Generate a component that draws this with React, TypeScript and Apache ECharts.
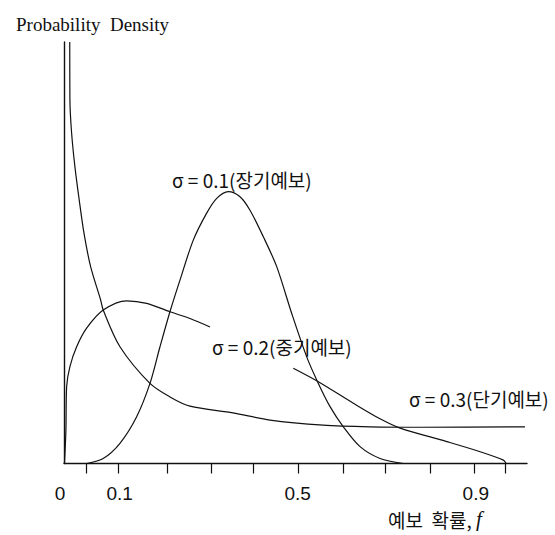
import React, { useEffect, useRef } from "react";
import * as echarts from "echarts";

// Forecast probability f (x) and probability density (y) for each spread σ.
const longRangeF = [0.0258, 0.0631, 0.1007, 0.1382, 0.1681, 0.1906, 0.213, 0.2355, 0.2654, 0.2955, 0.318, 0.344, 0.3703, 0.3928, 0.4227, 0.4528, 0.4865, 0.5202, 0.5463, 0.5726, 0.6025, 0.64, 0.6849, 0.7373];
const longRangeDensity = [0, 0.12, 0.48, 1.11, 1.9, 2.77, 3.6, 4.35, 5.3, 5.94, 6.29, 6.45, 6.33, 6.01, 5.38, 4.67, 3.56, 2.53, 1.9, 1.35, 0.87, 0.4, 0.12, 0];

// σ = 0.2 curve is drawn in two pieces, broken where its label sits.
const midRangeF1 = [-0.024, -0.0207, -0.0191, -0.0117, 0.0034, 0.0258, 0.0631, 0.1157, 0.1607, 0.213, 0.258, 0.3029];
const midRangeDensity1 = [0, 0.79, 1.82, 2.3, 2.77, 3.21, 3.64, 3.86, 3.8, 3.6, 3.44, 3.24];
const midRangeF2 = [0.4901, 0.5463, 0.6249, 0.6849, 0.7299, 0.8348, 0.9097, 0.962, 0.9681];
const midRangeDensity2 = [2.26, 1.94, 1.43, 1.06, 0.84, 0.52, 0.28, 0.08, 0];

const shortRangeF = [-0.0121, -0.0117, -0.0079, -0.0004, 0.0092, 0.0198, 0.0348, 0.0573, 0.0631, 0.1007, 0.1681, 0.213, 0.258, 0.3546, 0.4378, 0.5569, 0.6625, 0.7748, 1.0106];
const shortRangeDensity = [10, 8.62, 7.84, 7.03, 6.25, 5.47, 4.67, 3.88, 3.64, 2.77, 1.9, 1.58, 1.36, 1.2, 1.03, 0.91, 0.87, 0.86, 0.87];

const xTickValues = [0.024, 0.097, 0.208, 0.305, 0.4, 0.501, 0.602, 0.696, 0.797, 0.897, 0.966];
const xLabelValues = [-0.025, 0.1, 0.5, 0.9];
const xLabelTexts = ["0", "0.1", "0.5", "0.9"];

const seriesLabels = ["σ = 0.1(장기예보)", "σ = 0.2(중기예보)", "σ = 0.3(단기예보)"];

const zip = (xs: number[], ys: number[]) => xs.map((x, i) => [x, ys[i]]);

const INK = "#111";
const KR_FONT = '"Noto Sans CJK KR", "Noto Sans", sans-serif';
const TICK_FONT = '"Liberation Sans Narrow", "Liberation Sans", Arial, sans-serif';

export default function App() {
  const ref = useRef<HTMLDivElement>(null);

  useEffect(() => {
    if (!ref.current) return;
    const chart = echarts.init(ref.current, null, { renderer: "svg" });

    const curve = (data: number[][]) => ({
      type: "line",
      data,
      showSymbol: false,
      symbol: "none",
      smooth: 0.3,
      lineStyle: { color: INK, width: 1.2 },
      silent: true,
    });

    const labelText = (text: string, x: number, y: number) => ({
      type: "text",
      x,
      y,
      silent: true,
      style: {
        text,
        font: `19px ${KR_FONT}`,
        fill: INK,
        align: "left",
        verticalAlign: "middle",
      },
    });

    chart.setOption({
      animation: false,
      backgroundColor: "#fff",
      title: {
        text: "Probability  Density",
        left: 11,
        top: 10,
        textStyle: {
          fontFamily: '"Liberation Serif", "DejaVu Serif", serif',
          fontSize: 19,
          fontWeight: "normal",
          color: INK,
        },
      },
      grid: {
        left: 64,
        right: 28,
        top: 42,
        bottom: 71.5,
        containLabel: false,
        outerBoundsMode: "none",
      },
      xAxis: {
        type: "value",
        min: -0.025,
        max: 1.015,
        axisLine: { show: true, onZero: false, lineStyle: { color: INK, width: 1.4 } },
        axisTick: {
          show: true,
          inside: false,
          length: 10,
          customValues: xTickValues,
          lineStyle: { color: INK, width: 1.2 },
        },
        axisLabel: {
          show: true,
          customValues: xLabelValues,
          margin: 20,
          formatter: (v: number) => {
            const i = xLabelValues.findIndex((lv) => Math.abs(lv - v) < 1e-6);
            const t = i >= 0 ? xLabelTexts[i] : "";
            return i === 0 ? `{z|${t}}` : t;
          },
          fontFamily: TICK_FONT,
          fontSize: 19,
          color: INK,
          rich: {
            z: {
              fontFamily: TICK_FONT,
              fontSize: 19,
              color: INK,
              padding: [0, 8, 0, 0],
            },
          },
        },
        splitLine: { show: false },
      },
      yAxis: {
        type: "value",
        min: 0,
        max: 10,
        axisLine: { show: true, onZero: false, lineStyle: { color: INK, width: 1.4 } },
        axisTick: { show: false },
        axisLabel: { show: false },
        splitLine: { show: false },
      },
      series: [
        curve(zip(longRangeF, longRangeDensity)),
        curve(zip(midRangeF1, midRangeDensity1)),
        curve(zip(midRangeF2, midRangeDensity2)),
        curve(zip(shortRangeF, shortRangeDensity)),
      ],
      graphic: [
        labelText(seriesLabels[0], 172, 179),
        labelText(seriesLabels[1], 212, 346),
        labelText(seriesLabels[2], 409, 398),
        {
          type: "text",
          x: 388,
          y: 519,
          silent: true,
          style: {
            text: "예보  확률, {f|f}",
            font: `19px ${KR_FONT}`,
            fill: INK,
            align: "left",
            verticalAlign: "middle",
            rich: {
              f: {
                fontFamily: '"Liberation Serif", serif',
                fontStyle: "italic",
                fontSize: 21,
                fill: INK,
              },
            },
          },
        },
      ],
    });

    return () => chart.dispose();
  }, []);

  return (
    <div
      ref={ref}
      style={{ position: "fixed", left: 0, top: 0, width: 555, height: 535, background: "#fff" }}
    />
  );
}
